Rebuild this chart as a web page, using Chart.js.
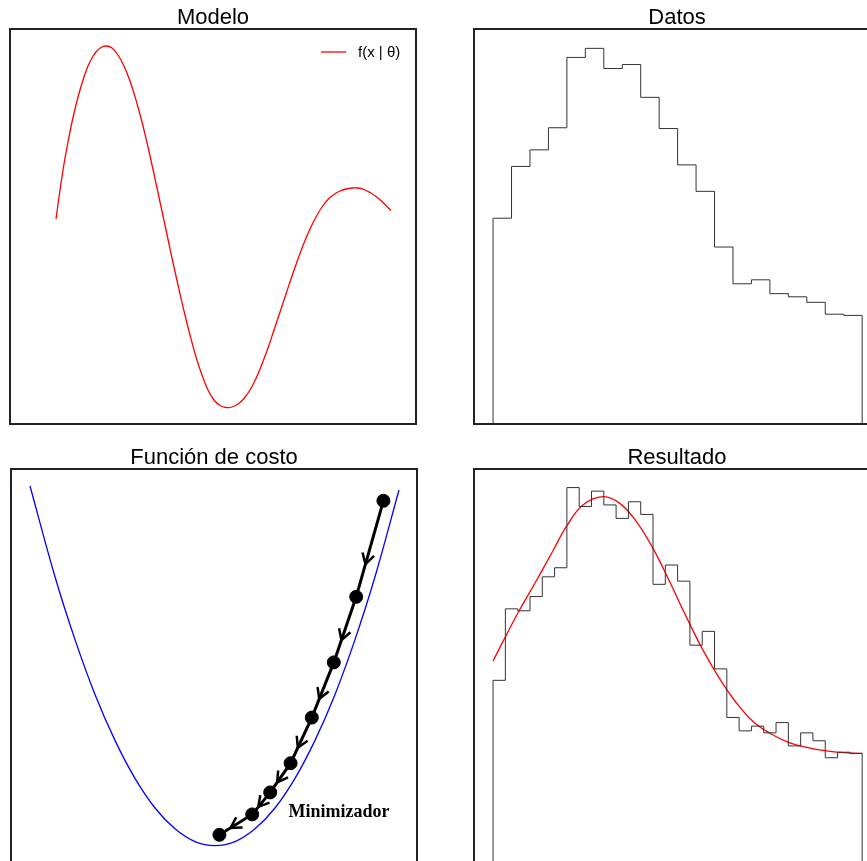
<!DOCTYPE html>
<html lang="es">
<head>
<meta charset="utf-8">
<title>Modelo, datos, función de costo y resultado</title>
<script src="https://cdn.jsdelivr.net/npm/chart.js@4.4.1/dist/chart.umd.min.js"></script>
<style>
  html, body { margin: 0; padding: 0; background: #fff; }
  body { width: 867px; height: 861px; overflow: hidden; position: relative; }
  canvas { position: absolute; }
</style>
</head>
<body>
<canvas id="modelo" width="426" height="434" style="left:0;top:0"></canvas>
<canvas id="datos" width="426" height="434" style="left:464px;top:0"></canvas>
<canvas id="costo" width="426" height="434" style="left:1px;top:440px"></canvas>
<canvas id="resultado" width="426" height="434" style="left:464px;top:440px"></canvas>
<script>
// --- Modelo: f(x|θ)
const modeloX = [4.6, 5.0, 5.4, 5.8, 6.2, 6.6, 7.0, 7.4, 7.8, 8.2, 8.6, 9.1, 9.6, 10.2, 10.8, 11.4,
                 12.0, 12.6, 13.2, 13.8, 14.4, 15.0, 15.6, 16.2, 16.8, 17.4, 18.0, 18.6, 19.2, 19.8,
                 20.4, 21.0, 21.6, 22.2, 22.8, 23.4, 24.0, 24.6, 25.2, 25.8, 26.4, 27.0, 27.6, 28.2,
                 28.8, 29.4, 30.0, 30.6, 31.2, 31.8, 32.4, 33.0, 33.6, 34.2, 34.8, 35.4, 36.0, 36.6,
                 37.2, 37.8, 38.1];
const modeloY = [20.5, 23.4, 26.0, 28.2, 30.2, 31.9, 33.4, 34.7, 35.8, 36.6, 37.2, 37.65, 37.8, 37.6, 36.9, 35.8,
                 34.3, 32.4, 30.2, 27.7, 25.0, 22.2, 19.4, 16.6, 13.9, 11.3, 8.9, 6.7, 4.9, 3.4,
                 2.4, 1.85, 1.65, 1.7, 2.0, 2.55, 3.4, 4.55, 6.0, 7.6, 9.4, 11.2, 13.0, 14.8,
                 16.5, 18.1, 19.5, 20.7, 21.7, 22.45, 22.95, 23.3, 23.5, 23.6, 23.6, 23.45, 23.15, 22.75,
                 22.25, 21.65, 21.35];

// --- Datos: histograma de 20 clases
const datosBordes = [0, 3, 6, 9, 12, 15, 18, 21, 24, 27, 30, 33, 36, 39, 42, 45, 48, 51, 54, 57, 60];
const datosFrec = [52.1, 65.2, 69.4, 75.0, 92.8, 95.1, 90.0, 91.0, 82.7, 74.8,
                   65.6, 58.9, 44.8, 35.5, 36.5, 33.0, 32.2, 30.8, 27.8, 27.5];

// --- Función de costo J(θ) y pasos del descenso
const costoTheta = [-4.625, -4, -3.5, -3, -2.5, -2, -1.5, -1, -0.5, 0, 0.5, 1, 1.5, 2, 2.5, 3, 3.5, 4, 4.6];
const costoJ = [9.45, 7.18, 5.61, 4.24, 3.09, 2.14, 1.40, 0.88, 0.56, 0.46, 0.56, 0.88, 1.40, 2.14, 3.09, 4.24, 5.61, 7.18, 9.35];
const pasosTheta = [4.21, 3.53, 2.97, 2.42, 1.89, 1.38, 0.93, 0.11];
const pasosJ = [9.08, 6.68, 5.04, 3.66, 2.52, 1.79, 1.24, 0.73];
const etiquetaMin = { text: 'Minimizador', theta: 3.1, J: 1.3 };

// --- Resultado: histograma de 30 clases y ajuste
const resBordes = [0, 2, 4, 6, 8, 10, 12, 14, 16, 18, 20, 22, 24, 26, 28, 30,
                   32, 34, 36, 38, 40, 42, 44, 46, 48, 50, 52, 54, 56, 58, 60];
const resFrec = [46.5, 64.6, 64.1, 67.7, 72.7, 75.0, 95.3, 90.5, 94.4, 90.9,
                 87.5, 91.7, 88.5, 70.8, 75.7, 71.6, 55.4, 58.9, 49.4, 37.1,
                 33.7, 34.9, 33.2, 35.8, 29.9, 33.2, 31.2, 26.9, 28.3, 28.0];
const ajusteX = [0, 1.6, 4.3, 7.1, 9.8, 11.9, 14.6, 17.9, 20.6, 23.3, 26.0, 28.7,
                 31.4, 34.1, 36.8, 39.6, 42.3, 45.0, 47.7, 50.4, 53.1, 55.8, 60];
const ajusteY = [51.4, 56.3, 64.3, 71.9, 79.5, 85.4, 90.9, 93.0, 91.3, 86.7, 79.9, 71.5,
                 62.6, 54.2, 47.0, 40.7, 36.0, 33.1, 31.0, 29.7, 28.9, 28.3, 28.0];

Chart.defaults.font.family = "'Liberation Sans', Arial, sans-serif";
Chart.defaults.color = '#000';

const toXY = (xs, ys) => xs.map((x, i) => ({ x, y: ys[i] }));

// contorno escalonado: sube en cada borde izquierdo y baja al final
const escalones = (bordes, frec) => [
  { x: bordes[0], y: 0 },
  ...frec.map((f, i) => ({ x: bordes[i + 1], y: f })),
  { x: bordes[bordes.length - 1], y: 0 }
];

// marco negro alrededor del área del gráfico
const marco = {
  id: 'marco',
  afterDraw(chart) {
    const { ctx, chartArea: a } = chart;
    ctx.save();
    ctx.strokeStyle = '#222';
    ctx.lineWidth = 2;
    ctx.strokeRect(a.left, a.top, a.right - a.left, a.bottom - a.top);
    ctx.restore();
  }
};

// leyenda dentro del área, arriba a la derecha
const leyendaInterna = {
  id: 'leyendaInterna',
  afterDatasetsDraw(chart) {
    const { ctx, chartArea: a } = chart;
    const ds = chart.data.datasets[0];
    const y = a.top + 23;
    ctx.save();
    ctx.strokeStyle = ds.borderColor;
    ctx.lineWidth = 1.3;
    ctx.beginPath();
    ctx.moveTo(a.right - 95, y);
    ctx.lineTo(a.right - 70, y);
    ctx.stroke();
    ctx.fillStyle = '#000';
    ctx.font = "15px 'Liberation Sans', Arial, sans-serif";
    ctx.textBaseline = 'middle';
    ctx.fillText(ds.label, a.right - 58, y + 1);
    ctx.restore();
  }
};

// flechas en cada tramo del descenso
const flechas = {
  id: 'flechas',
  afterDatasetsDraw(chart) {
    const pts = chart.getDatasetMeta(1).data;
    const { ctx } = chart;
    ctx.save();
    ctx.strokeStyle = '#000';
    ctx.lineWidth = 2.5;
    for (let i = 0; i < pts.length - 1; i++) {
      const p0 = pts[i], p1 = pts[i + 1];
      const tx = p0.x + 0.66 * (p1.x - p0.x);
      const ty = p0.y + 0.66 * (p1.y - p0.y);
      const ang = Math.atan2(p1.y - p0.y, p1.x - p0.x);
      ctx.beginPath();
      ctx.moveTo(tx - 12 * Math.cos(ang - Math.PI / 6), ty - 12 * Math.sin(ang - Math.PI / 6));
      ctx.lineTo(tx, ty);
      ctx.lineTo(tx - 12 * Math.cos(ang + Math.PI / 6), ty - 12 * Math.sin(ang + Math.PI / 6));
      ctx.stroke();
    }
    const sx = chart.scales.x.getPixelForValue(etiquetaMin.theta);
    const sy = chart.scales.y.getPixelForValue(etiquetaMin.J);
    ctx.fillStyle = '#000';
    ctx.font = "bold 18px 'Liberation Serif', 'Times New Roman', serif";
    ctx.textAlign = 'center';
    ctx.textBaseline = 'middle';
    ctx.fillText(etiquetaMin.text, sx, sy);
    ctx.restore();
  }
};

const baseOptions = (title, xr, yr) => ({
  responsive: false,
  animation: false,
  events: [],
  layout: { padding: { left: 10, right: 10, bottom: 10 } },
  scales: {
    x: { type: 'linear', display: false, min: xr[0], max: xr[1] },
    y: { type: 'linear', display: false, min: yr[0], max: yr[1] }
  },
  plugins: {
    legend: { display: false },
    tooltip: { enabled: false },
    title: {
      display: true,
      text: title,
      color: '#000',
      font: { size: 22, weight: 'normal', lineHeight: 1 },
      padding: { top: 7, bottom: 0 }
    }
  }
});

new Chart(document.getElementById('modelo'), {
  type: 'line',
  data: {
    datasets: [{
      label: 'f(x | θ)',
      data: toXY(modeloX, modeloY),
      borderColor: '#ff0000',
      borderWidth: 1.3,
      pointRadius: 0,
      tension: 0.4
    }]
  },
  options: baseOptions('Modelo', [0, 40.6], [0, 39.5]),
  plugins: [marco, leyendaInterna]
});

new Chart(document.getElementById('datos'), {
  type: 'line',
  data: {
    datasets: [{
      data: escalones(datosBordes, datosFrec),
      borderColor: '#333',
      borderWidth: 1,
      pointRadius: 0,
      stepped: 'after'
    }]
  },
  options: baseOptions('Datos', [-3.1, 62.9], [0, 100]),
  plugins: [marco]
});

new Chart(document.getElementById('costo'), {
  type: 'line',
  data: {
    datasets: [{
      data: toXY(costoTheta, costoJ),
      borderColor: '#0000ff',
      borderWidth: 1.3,
      pointRadius: 0,
      tension: 0.4
    }, {
      data: toXY(pasosTheta, pasosJ),
      borderColor: '#000',
      borderWidth: 3,
      pointRadius: 6.5,
      pointBackgroundColor: '#000',
      pointBorderColor: '#000',
      pointBorderWidth: 1,
      tension: 0
    }]
  },
  options: baseOptions('Función de costo', [-5.1, 5.05], [0, 9.875]),
  plugins: [marco, flechas]
});

new Chart(document.getElementById('resultado'), {
  type: 'line',
  data: {
    datasets: [{
      data: escalones(resBordes, resFrec),
      borderColor: '#333',
      borderWidth: 1,
      pointRadius: 0,
      stepped: 'after'
    }, {
      data: toXY(ajusteX, ajusteY),
      borderColor: '#ff0000',
      borderWidth: 1.3,
      pointRadius: 0,
      tension: 0.4
    }]
  },
  options: baseOptions('Resultado', [-3.1, 62.9], [0, 100]),
  plugins: [marco]
});
</script>
</body>
</html>
